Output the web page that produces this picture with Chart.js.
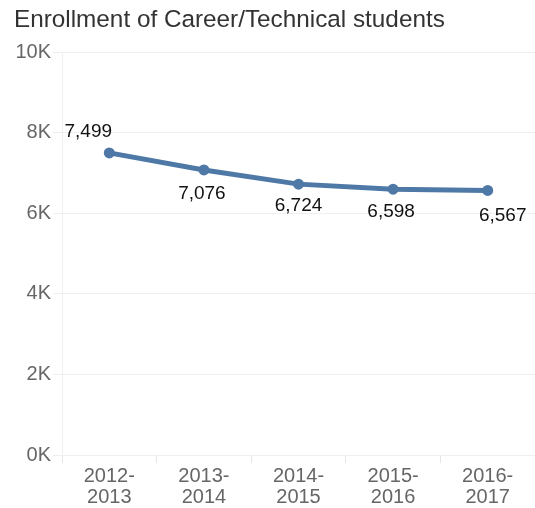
<!DOCTYPE html>
<html>
<head>
<meta charset="utf-8">
<script src="https://cdn.jsdelivr.net/npm/chart.js@4/dist/chart.umd.min.js"></script>
<style>
  html, body { margin: 0; padding: 0; background: #fff; }
  #wrap { width: 535px; height: 508px; }
</style>
</head>
<body>
<div id="wrap"><canvas id="chart"></canvas></div>
<script>
const years = [["2012-", "2013"], ["2013-", "2014"], ["2014-", "2015"], ["2015-", "2016"], ["2016-", "2017"]];
const enrollment = [7499, 7076, 6724, 6598, 6567];
const yTicks = [0, 2000, 4000, 6000, 8000, 10000];

const FONT = "'Liberation Sans', Arial, sans-serif";
const GRID = "#efefef";
const LINE = "#4e79a7";

// where each value label sits relative to its point
const labelShift = [[-21, -21], [-2, 24], [0, 22], [-2, 23], [15, 25]];

const valueLabels = {
  id: "valueLabels",
  afterDatasetsDraw(chart) {
    const { ctx } = chart;
    const meta = chart.getDatasetMeta(0);
    ctx.save();
    ctx.font = "19px " + FONT;
    ctx.fillStyle = "#111";
    ctx.textAlign = "center";
    ctx.textBaseline = "middle";
    meta.data.forEach((pt, i) => {
      const [dx, dy] = labelShift[i];
      ctx.fillText(enrollment[i].toLocaleString("en-US"), pt.x + dx, pt.y + dy);
    });
    ctx.restore();
  }
};

new Chart(document.getElementById("chart"), {
  type: "line",
  data: {
    labels: years,
    datasets: [{
      data: enrollment,
      borderColor: LINE,
      backgroundColor: LINE,
      borderWidth: 5,
      pointRadius: 5.5,
      pointHoverRadius: 5.5,
      pointBorderWidth: 0,
      tension: 0
    }]
  },
  options: {
    responsive: true,
    maintainAspectRatio: false,
    animation: false,
    layout: { autoPadding: false, padding: { left: 14, right: 0, top: 0, bottom: 0 } },
    plugins: {
      legend: { display: false },
      tooltip: { enabled: false },
      title: {
        display: true,
        text: "Enrollment of Career/Technical students",
        align: "start",
        color: "#333",
        font: { family: FONT, size: 24.3, weight: "normal" },
        padding: { top: 6, bottom: 17 }
      }
    },
    scales: {
      y: {
        min: 0,
        max: 10000,
        afterBuildTicks(axis) { axis.ticks = yTicks.map(v => ({ value: v })); },
        afterFit(axis) { axis.width = 48; },
        grid: { color: GRID, tickLength: 9, tickColor: GRID },
        border: { color: GRID },
        ticks: {
          padding: 2,
          color: "#666",
          font: { family: FONT, size: 20 },
          callback: v => (v / 1000) + "K"
        }
      },
      x: {
        offset: true,
        afterFit(axis) {
          axis.height = 53;
          axis.paddingLeft = 0;
          axis.paddingRight = 0;
        },
        grid: { offset: true, drawOnChartArea: false, color: GRID, tickLength: 8, tickColor: "#e6e6e6" },
        border: { color: GRID },
        ticks: {
          padding: 3,
          color: "#666",
          maxRotation: 0,
          font: { family: FONT, size: 20, lineHeight: 1.05 }
        }
      }
    }
  },
  plugins: [valueLabels]
});
</script>
</body>
</html>
